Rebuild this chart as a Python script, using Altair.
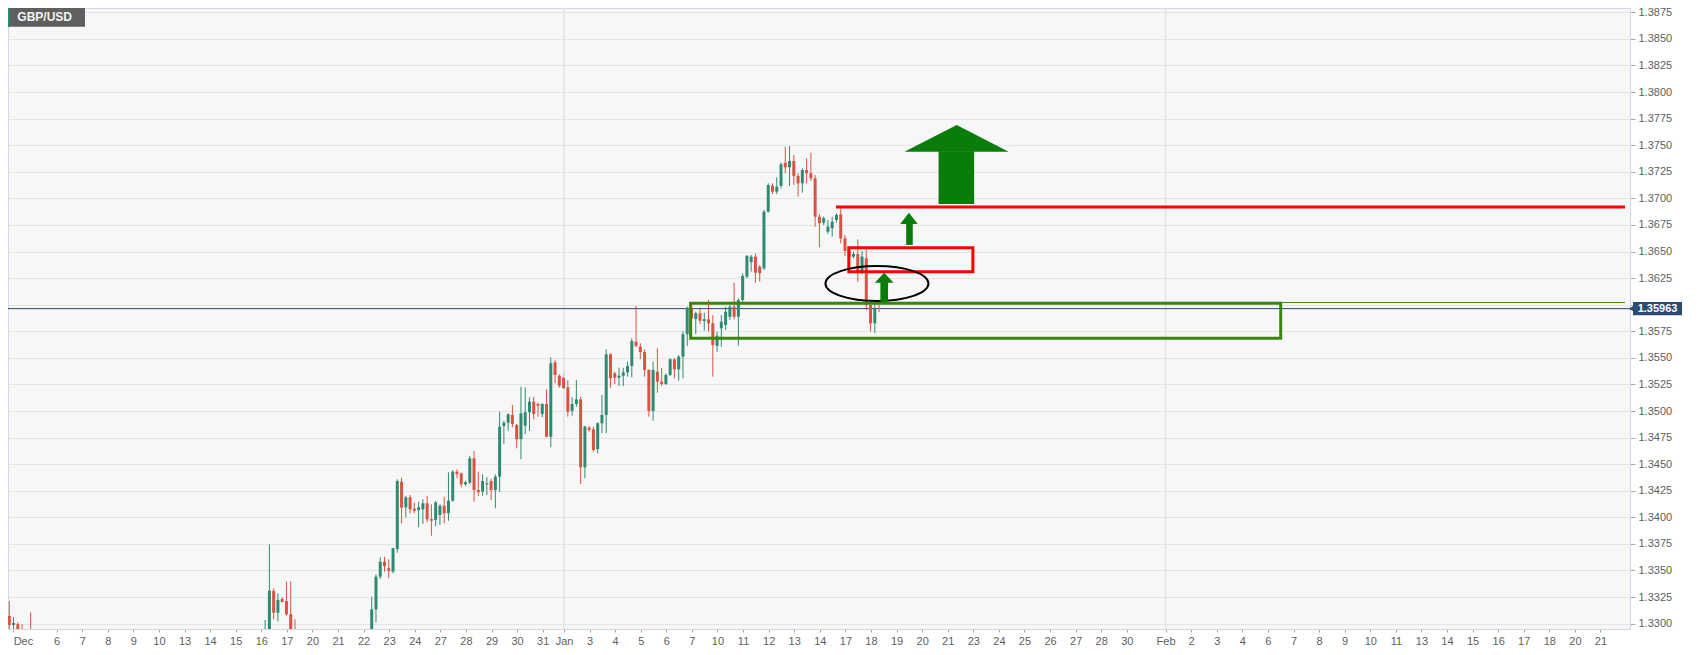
import json
import altair as alt
import pandas as pd

# ---------------- data (4h candles, index = bar number) ----------------
bars = [0, 1, 2, 3, 4, 6,
        61, 62, 63, 64, 65, 66, 67, 68,
        86, 87, 88, 89, 90, 91, 92, 93, 94, 95, 96, 97, 98, 99, 100,
        101, 102, 103, 104, 105, 106, 107, 108, 109, 110, 111, 112, 113, 114, 115,
        116, 117, 118, 119, 120, 121, 122, 123, 124, 125, 126, 127, 128, 129, 130,
        131, 132, 133, 134, 135, 136, 137, 138, 139, 140, 141, 142, 143, 144, 145,
        146, 147, 148, 149, 150, 151, 152, 153, 154, 155, 156, 157, 158, 159, 160,
        161, 162, 163, 164, 165, 166, 167, 168, 169, 170, 171, 172, 173, 174, 175,
        176, 177, 178, 179, 180, 181, 182, 183, 184, 185, 186, 187, 188, 189, 190,
        191, 192, 193, 194, 195, 196, 197, 198, 199, 200, 201, 202, 203, 204, 205]
opens = [1.33288, 1.33072, 1.32987, 1.32994, 1.32920, 1.32900,
         1.32850, 1.32900, 1.33307, 1.33103, 1.33232, 1.33213, 1.33088, 1.32930,
         1.32920, 1.33135, 1.33442, 1.33583, 1.33521, 1.33489, 1.33703, 1.34335, 1.34094, 1.34188, 1.34081, 1.34069, 1.34076, 1.34132, 1.33984,
         1.33975, 1.34022, 1.34109, 1.34038, 1.34156, 1.34429, 1.34414, 1.34311, 1.34326, 1.34555, 1.34257, 1.34241, 1.34310, 1.34342, 1.34257,
         1.34382, 1.34859, 1.34890, 1.34963, 1.34869, 1.34734, 1.34862, 1.34988, 1.35088, 1.35066, 1.34972, 1.35066, 1.34758, 1.35458, 1.35332,
         1.35313, 1.35223, 1.35003, 1.35066, 1.35110, 1.34471, 1.34843, 1.34828, 1.34643, 1.34885, 1.34963, 1.35533, 1.35355, 1.35313, 1.35332,
         1.35364, 1.35423, 1.35652, 1.35605, 1.35555, 1.35386, 1.35000, 1.35370, 1.35276, 1.35254, 1.35339, 1.35486, 1.35392, 1.35511, 1.35722,
         1.35972, 1.35865, 1.35919, 1.35847, 1.35863, 1.35825, 1.35612, 1.35778, 1.35809, 1.35887, 1.35981, 1.35887, 1.36044, 1.36264, 1.36400,
         1.36452, 1.36357, 1.36342, 1.36875, 1.37119, 1.37063, 1.37117, 1.37336, 1.37292, 1.37352, 1.37211, 1.37142, 1.37267, 1.37236, 1.37189,
         1.36828, 1.36771, 1.36687, 1.36719, 1.36797, 1.36850, 1.36624, 1.36505, 1.36452, 1.36477, 1.36310, 1.36437, 1.35997, 1.35825, 1.35966]
highs = [1.33335, 1.33213, 1.33062, 1.33013, 1.32994, 1.33107,
         1.33034, 1.33746, 1.33332, 1.33285, 1.33248, 1.33395, 1.33398, 1.33041,
         1.33253, 1.33464, 1.33624, 1.33630, 1.33605, 1.33714, 1.34358, 1.34373, 1.34203, 1.34210, 1.34138, 1.34147, 1.34170, 1.34203, 1.34122,
         1.34154, 1.34122, 1.34194, 1.34424, 1.34445, 1.34452, 1.34420, 1.34345, 1.34577, 1.34624, 1.34429, 1.34405, 1.34377, 1.34361, 1.34405,
         1.34994, 1.34909, 1.34979, 1.35057, 1.34878, 1.35229, 1.35223, 1.35129, 1.35134, 1.35078, 1.35073, 1.35204, 1.35505, 1.35480, 1.35346,
         1.35364, 1.35292, 1.35129, 1.35292, 1.35134, 1.34862, 1.34859, 1.34853, 1.34894, 1.35151, 1.35580, 1.35543, 1.35370, 1.35407, 1.35407,
         1.35464, 1.35684, 1.35988, 1.35637, 1.35580, 1.35393, 1.35464, 1.35590, 1.35407, 1.35355, 1.35496, 1.35496, 1.35527, 1.35753, 1.35981,
         1.36000, 1.35934, 1.35972, 1.35925, 1.36044, 1.35903, 1.35746, 1.35903, 1.35981, 1.35997, 1.36207, 1.36060, 1.36295, 1.36468, 1.36468,
         1.36483, 1.36373, 1.36891, 1.37142, 1.37142, 1.37198, 1.37336, 1.37486, 1.37493, 1.37408, 1.37236, 1.37283, 1.37377, 1.37430, 1.37220,
         1.36853, 1.36828, 1.36797, 1.36828, 1.36860, 1.36907, 1.36656, 1.36533, 1.36499, 1.36615, 1.36505, 1.36531, 1.36030, 1.36028, 1.36010]
lows = [1.33034, 1.32900, 1.32900, 1.32800, 1.32800, 1.32800,
        1.32800, 1.32850, 1.33041, 1.33022, 1.33197, 1.33075, 1.32850, 1.32850,
        1.32880, 1.33013, 1.33420, 1.33489, 1.33427, 1.33473, 1.33667, 1.33944, 1.34000, 1.34038, 1.34038, 1.33906, 1.33937, 1.33953, 1.33827,
        1.33918, 1.33928, 1.33944, 1.33968, 1.34147, 1.34367, 1.34282, 1.34295, 1.34314, 1.34147, 1.34203, 1.34203, 1.34210, 1.34163, 1.34085,
        1.34236, 1.34690, 1.34815, 1.34847, 1.34649, 1.34546, 1.34784, 1.34812, 1.34922, 1.34947, 1.34941, 1.34753, 1.34659, 1.35261, 1.35219,
        1.35204, 1.34947, 1.34956, 1.35041, 1.34313, 1.34367, 1.34805, 1.34617, 1.34602, 1.34791, 1.34791, 1.35219, 1.35254, 1.35235, 1.35235,
        1.35323, 1.35317, 1.35600, 1.35489, 1.35323, 1.34947, 1.34909, 1.35172, 1.35235, 1.35245, 1.35330, 1.35308, 1.35285, 1.35308, 1.35612,
        1.35840, 1.35724, 1.35819, 1.35756, 1.35746, 1.35323, 1.35558, 1.35605, 1.35762, 1.35856, 1.35863, 1.35615, 1.36028, 1.36248, 1.36311,
        1.36207, 1.36217, 1.36326, 1.36866, 1.37041, 1.37041, 1.37095, 1.37236, 1.37117, 1.37126, 1.37016, 1.37054, 1.37142, 1.37164, 1.36734,
        1.36540, 1.36750, 1.36665, 1.36640, 1.36771, 1.36577, 1.36458, 1.36402, 1.36437, 1.36216, 1.36286, 1.35950, 1.35746, 1.35731, 1.35930]
closes = [1.33081, 1.32987, 1.33006, 1.32850, 1.32880, 1.32850,
          1.32930, 1.33310, 1.33103, 1.33222, 1.33206, 1.33088, 1.32900, 1.32880,
          1.33135, 1.33442, 1.33583, 1.33542, 1.33495, 1.33709, 1.34342, 1.34091, 1.34188, 1.34076, 1.34062, 1.34094, 1.34132, 1.33981, 1.33968,
          1.34141, 1.34109, 1.34038, 1.34156, 1.34429, 1.34408, 1.34311, 1.34330, 1.34555, 1.34257, 1.34236, 1.34342, 1.34320, 1.34257, 1.34382,
          1.34853, 1.34890, 1.34969, 1.34878, 1.34734, 1.34979, 1.34988, 1.35088, 1.34972, 1.35050, 1.35066, 1.34758, 1.35449, 1.35339, 1.35238,
          1.35214, 1.34994, 1.35066, 1.35110, 1.34471, 1.34853, 1.34822, 1.34633, 1.34885, 1.34963, 1.35533, 1.35308, 1.35313, 1.35332, 1.35364,
          1.35423, 1.35659, 1.35612, 1.35555, 1.35386, 1.35000, 1.35386, 1.35276, 1.35254, 1.35339, 1.35486, 1.35392, 1.35511, 1.35722, 1.35972,
          1.35870, 1.35919, 1.35850, 1.35863, 1.35825, 1.35621, 1.35708, 1.35840, 1.35934, 1.35981, 1.35887, 1.36044, 1.36270, 1.36458, 1.36452,
          1.36301, 1.36295, 1.36875, 1.37126, 1.37063, 1.37110, 1.37321, 1.37292, 1.37352, 1.37211, 1.37142, 1.37267, 1.37236, 1.37189, 1.36828,
          1.36766, 1.36813, 1.36734, 1.36781, 1.36844, 1.36624, 1.36505, 1.36449, 1.36477, 1.36317, 1.36452, 1.35997, 1.35825, 1.35966, 1.35963]

last_price = 1.35963

# x-axis labels (trading-day slots, in bar units)
tick_lab = ["Dec", "6", "7", "8", "9", "10", "13", "14", "15", "16", "17", "20", "21", "22", "23", "24",
            "27", "28", "29", "30", "31",
            "Jan", "3", "4", "5", "6", "7", "10", "11", "12", "13", "14", "17", "18", "19", "20", "21",
            "23", "24", "25", "26", "27", "28", "30",
            "Feb", "2", "3", "4", "6", "7", "8", "9", "10", "11", "13", "14", "15", "16", "17", "18", "20", "21"]
tick_pos = [1.9, 12.1, 18.1, 24.1, 30.1, 36.1, 42.1, 48.1, 54.1, 60.1, 66.1, 72.1, 78.1, 84.1, 90.1, 96.1,
            102.1, 108.1, 114.1, 120.1, 126.1,
            131.1, 137.1, 143.1, 149.1, 155.1, 161.1, 167.1, 173.1, 179.1, 185.1, 191.1, 197.1, 203.1, 209.1, 215.1, 221.1,
            227.1, 233.1, 239.1, 245.1, 251.1, 257.1, 263.1,
            272.2, 278.2, 284.2, 290.2, 296.2, 302.2, 308.2, 314.2, 320.2, 326.2, 332.2, 338.2, 344.2, 350.2, 356.2, 362.2, 368.2, 374.2]
month_pos = [131.1, 272.2]

price_ticks = [1.3300, 1.3325, 1.3350, 1.3375, 1.3400, 1.3425, 1.3450, 1.3475, 1.3500, 1.3525, 1.3550, 1.3575,
               1.3600, 1.3625, 1.3650, 1.3675, 1.3700, 1.3725, 1.3750, 1.3775, 1.3800, 1.3825, 1.3850, 1.3875]

# annotations (bar units / prices)
green_box = {"x1": [160.8], "x2": [299.2], "y1": [1.36013], "y2": [1.35684]}
green_thin = {"x1": [168.2], "x2": [379.95], "y": [1.36021]}
red_box = {"x1": [197.9], "x2": [227.0], "y1": [1.36536], "y2": [1.36310]}
red_line = {"x1": [194.9], "x2": [379.95], "y": [1.36919]}
ellipse = {"x": [204.5], "y": [1.36199]}
shaft_id = ["a1", "a2", "a3"]
shaft_x1 = [205.3, 211.35, 218.95]
shaft_x2 = [207.1, 212.9, 227.3]
shaft_top = [1.36212, 1.36764, 1.37444]
shaft_bot = [1.36028, 1.36562, 1.36947]
head_id = ["a1", "a1", "a1", "a2", "a2", "a2", "a3", "a3", "a3"]
head_x = [204.0, 206.2, 208.4, 209.95, 212.0, 214.05, 210.95, 223.2, 235.4]
head_y = [1.36207, 1.36301, 1.36207, 1.36759, 1.36865, 1.36759, 1.37439, 1.37690, 1.37439]
head_base = [1.36207, 1.36207, 1.36207, 1.36759, 1.36759, 1.36759, 1.37439, 1.37439, 1.37439]

# ---------------- styling ----------------
W, H = 1622, 621
X_DOM = [1.865, 379.95]
Y_DOM = [1.329496, 1.387908]
UP, DOWN = "#2f8a72", "#d95343"
GRN_BOX = "#37870f"
ARROW = "#0a7c0a"
NAVY = "#2d4a70"
FONT = "Liberation Sans"

df = pd.DataFrame({"bar": bars, "open": opens, "high": highs, "low": lows, "close": closes})
df["dir"] = ["up" if c >= o else "down" for o, c in zip(df["open"], df["close"])]
lo = df[["open", "close"]].min(axis=1)
hi = df[["open", "close"]].max(axis=1)
mid = (lo + hi) / 2
small = (hi - lo) < 0.0001
df["blo"] = lo.where(~small, mid - 0.00005)
df["bhi"] = hi.where(~small, mid + 0.00005)

xs = alt.Scale(domain=X_DOM, nice=False, zero=False)
ys = alt.Scale(domain=Y_DOM, nice=False, zero=False)
col = alt.Color("dir:N", scale=alt.Scale(domain=["up", "down"], range=[UP, DOWN]), legend=None)

label_expr = f"{json.dumps(tick_lab)}[indexof({json.dumps(tick_pos)}, datum.value)]"
xaxis = alt.Axis(values=tick_pos, labelExpr=label_expr, grid=False, title=None,
                 domainColor="#cfd5e3", tickColor="#a8a8a8", tickSize=3,
                 labelFont=FONT, labelFontSize=11, labelColor="#5e5e5e", labelPadding=3,
                 labelAlign={"expr": "datum.value < 3 ? 'left' : 'center'"},
                 labelOverlap=False, labelBound=False)
yaxis = alt.Axis(values=price_ticks, format=".4f", orient="right", title=None,
                 labelExpr="abs(datum.value - 1.36) < 0.00001 ? '' : datum.label",
                 grid=True, gridColor="#e4e4e4", gridWidth=1,
                 domainColor="#cfd5e3", tickColor="#a8a8a8", tickSize=5,
                 labelFont=FONT, labelFontSize=11, labelColor="#5e5e5e", labelPadding=3)


def X(field):
    return alt.X(field, scale=xs, axis=xaxis)


def Y(field):
    return alt.Y(field, scale=ys, axis=yaxis)


one = pd.DataFrame({"k": [0]})

wicks = alt.Chart(df).mark_rule(strokeWidth=1, clip=True).encode(
    x=X("bar:Q"), y=Y("low:Q"), y2="high:Q", color=col)

months = alt.Chart(pd.DataFrame({"m": month_pos})).mark_rule(color="#e2e2e2", strokeWidth=1.5).encode(
    x=X("m:Q"))

bodies = alt.Chart(df).mark_bar(size=3, clip=True).encode(
    x=X("bar:Q"), y=Y("blo:Q"), y2="bhi:Q", color=col)

price_line = alt.Chart(pd.DataFrame({"p": [last_price]})).mark_rule(color=NAVY, strokeWidth=1).encode(
    y=Y("p:Q"))

gbox = alt.Chart(pd.DataFrame(green_box)).mark_rect(fillOpacity=0, stroke=GRN_BOX, strokeWidth=3).encode(
    x=X("x1:Q"), x2="x2:Q", y=Y("y1:Q"), y2="y2:Q")

gthin = alt.Chart(pd.DataFrame(green_thin)).mark_rule(color="#3d8c1a", strokeWidth=1).encode(
    x=X("x1:Q"), x2="x2:Q", y=Y("y:Q"))

rbox = alt.Chart(pd.DataFrame(red_box)).mark_rect(fillOpacity=0, stroke="#ff0000", strokeWidth=3).encode(
    x=X("x1:Q"), x2="x2:Q", y=Y("y1:Q"), y2="y2:Q")

rline = alt.Chart(pd.DataFrame(red_line)).mark_rule(color="#ff0000", strokeWidth=3).encode(
    x=X("x1:Q"), x2="x2:Q", y=Y("y:Q"))

ell_path = "M -1 0 A 1 0.34 0 1 0 1 0 A 1 0.34 0 1 0 -1 0 Z"
ell = alt.Chart(pd.DataFrame(ellipse)).mark_point(
    shape=ell_path, size=103 * 103, filled=False, stroke="black", strokeWidth=2, opacity=1).encode(
    x=X("x:Q"), y=Y("y:Q"))

shafts = alt.Chart(pd.DataFrame({"id": shaft_id, "x1": shaft_x1, "x2": shaft_x2,
                                 "t": shaft_top, "b": shaft_bot})).mark_rect(color=ARROW).encode(
    x=X("x1:Q"), x2="x2:Q", y=Y("t:Q"), y2="b:Q")

heads = alt.Chart(pd.DataFrame({"id": head_id, "x": head_x, "y": head_y, "b": head_base})).mark_area(
    color=ARROW, opacity=1).encode(
    x=X("x:Q"), y=Y("y:Q"), y2="b:Q", detail="id:N")

pbox_df = pd.DataFrame({"t": [last_price + 0.00063], "b": [last_price - 0.00063], "p": [last_price],
                        "lab": [f"{last_price:.5f}"]})
pbox = alt.Chart(pbox_df).mark_rect(color=NAVY).encode(
    x=alt.value(1625), x2=alt.value(1674), y=Y("t:Q"), y2="b:Q")
pnotch = alt.Chart(pbox_df).mark_point(shape="triangle-left", filled=True, size=30, color=NAVY, opacity=1).encode(
    x=alt.value(1623), y=Y("p:Q"))
ptext = alt.Chart(pbox_df).mark_text(color="white", font=FONT, fontSize=11, fontWeight="bold",
                                     align="center", baseline="middle").encode(
    x=alt.value(1649.5), y=Y("p:Q"), text="lab:N")

badge = alt.Chart(one).mark_rect(color="#5f5f5f").encode(
    x=alt.value(0), x2=alt.value(77), y=alt.value(0), y2=alt.value(18.7))
badge_strip = alt.Chart(one).mark_rect(color="#2b8a6e").encode(
    x=alt.value(0), x2=alt.value(2), y=alt.value(0), y2=alt.value(18.7))
badge_text = alt.Chart(pd.DataFrame({"t": ["GBP/USD"]})).mark_text(
    color="#f2f2f2", font=FONT, fontSize=12, fontWeight="bold", align="left", baseline="middle").encode(
    x=alt.value(9.3), y=alt.value(8.6), text="t:N")

chart = alt.layer(
    wicks, months, price_line, bodies, gthin, gbox, rbox, rline, ell, shafts, heads,
    pbox, pnotch, ptext, badge, badge_strip, badge_text
).properties(
    width=W, height=H,
    autosize=alt.AutoSizeParams(type="none"),
    padding={"left": 0, "top": 0, "right": 60, "bottom": 18},
    background="white",
).configure_view(fill="#f7f7f7", stroke="#d0d7e6", strokeWidth=1)

chart.save("out.html", embed_options={"renderer": "svg", "actions": False})
